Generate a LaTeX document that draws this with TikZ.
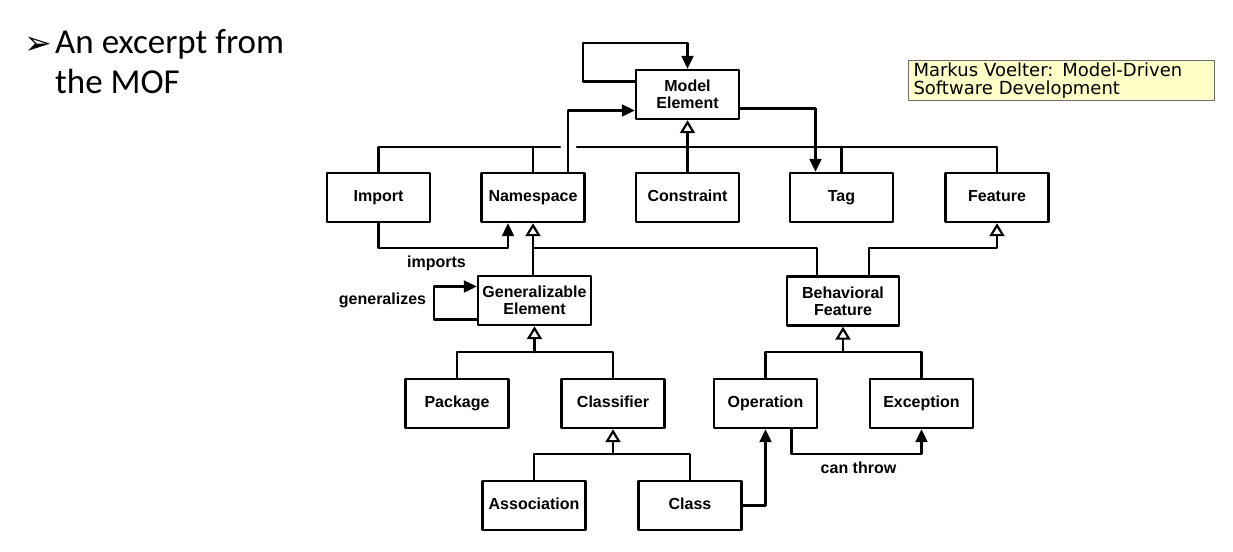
\documentclass[tikz,border=0pt]{standalone}
\usepackage{fontspec}
\setsansfont{Liberation Sans}
\newfontfamily\titlefont{Carlito}
\newfontfamily\notefont{DejaVu Sans}
\usetikzlibrary{arrows.meta}
\definecolor{notebg}{RGB}{255,255,200}
\definecolor{noteline}{RGB}{110,110,110}
\newcommand{\boxfont}{\sffamily\bfseries\fontsize{16}{17}\selectfont}

\begin{document}
\begin{tikzpicture}[line cap=round,line join=round,x=1pt,y=-1pt,
  >={Triangle[length=13pt,width=12pt]},
  box/.style={draw,line width=2.4pt,minimum width=103pt,minimum height=49pt,inner sep=3pt,align=center,font=\boxfont},
  onebox/.style={box,text height=11.5pt,text depth=3.5pt},
  conn/.style={line width=2.2pt},
  gen/.style={conn,-{Triangle[open,length=13pt,width=15pt,fill=white]}},
  lbl/.style={inner sep=0pt,anchor=base,font=\boxfont}]
\useasboundingbox (0,0) rectangle (1233,551);
% title and note
\node[inner sep=0pt,anchor=base west,font=\notefont\fontsize{33}{33}\selectfont] (bullet) at (24,55) {➢};
\node[inner sep=0pt,anchor=base west,font=\titlefont\fontsize{35}{40}\selectfont] (title1) at (55,53) {An excerpt from};
\node[inner sep=0pt,anchor=base west,font=\titlefont\fontsize{35}{40}\selectfont] (title2) at (55,93) {the MOF};
\node[draw=noteline,fill=notebg,line width=1pt,anchor=north west,text width=296pt,inner xsep=5pt,inner ysep=2pt,minimum height=40pt,align=left,font=\notefont\fontsize{18}{18}\selectfont] (note) at (908,60) {Markus Voelter: Model-Driven\\Software Development};
% boxes
\node[box] (me) at (687.5,94.5) {Model\\Element};
\node[onebox] (imp) at (378.5,197.5) {Import};
\node[onebox] (ns) at (533,197.5) {Namespace};
\node[onebox] (con) at (687.5,197.5) {Constraint};
\node[onebox] (tag) at (841.5,197.5) {Tag};
\node[onebox] (feat) at (997,197.5) {Feature};
\node[box,minimum width=113pt] (ge) at (534.5,300.5) {Generalizable\\Element};
\node[box,minimum width=112pt] (bf) at (843,301) {Behavioral\\Feature};
\node[onebox] (pkg) at (457,403.5) {Package};
\node[onebox] (cls) at (613,403.5) {Classifier};
\node[onebox] (op) at (765.5,403.5) {Operation};
\node[onebox] (exc) at (921.5,403.5) {Exception};
\node[onebox] (assoc) at (534,505.5) {Association};
\node[onebox] (clazz) at (690,505.5) {Class};
% labels
\node[lbl] (lblimp) at (436.5,267) {imports};
\node[lbl] (lblgen) at (382.5,304) {generalizes};
\node[lbl] (lblthrow) at (858.5,473) {can throw};
% model element
\draw[conn,->] ([yshift=13pt]me.west) -- ++(-52,0) |- ([yshift=26pt]me.north) -- (me.north);
\draw[conn] (imp.north) |- ([xshift=27pt,yshift=25pt]ns.north);
\draw[conn] ([xshift=44pt,yshift=25pt]ns.north) -| (feat.north);
\draw[conn] (ns.north) -- ++(0,-25);
\draw[conn] (tag.north) -- ++(0,-25);
\draw[gen] (con.north) -- (me.south);
\draw[conn,->] ([xshift=35pt]ns.north) |- ([yshift=-16pt]me.west);
\draw[conn,->] ([yshift=-14pt]me.east) -| ([xshift=-26pt]tag.north);
% namespace, feature
\draw[conn,->] (imp.south) -- ++(0,25) -| ([xshift=-25pt]ns.south);
\draw[gen] (ns.south |- ge.north) -- (ns.south);
\draw[conn] ([yshift=-25pt]ns.south) -| ([xshift=-26pt]bf.north);
\draw[gen] ([xshift=26pt]bf.north) -- ++(0,-27) -| (feat.south);
\draw[conn,->] ([yshift=-19pt]ge.west) -- ++(-43,0) |- ([yshift=14pt]ge.west);
% lower levels
\draw[conn] (pkg.north) -- ++(0,-26) -| (cls.north);
\draw[gen] ([yshift=-26pt]ge.south) -- (ge.south);
\draw[conn] (op.north) -- ++(0,-26) -| (exc.north);
\draw[gen] ([yshift=-25pt]bf.south) -- (bf.south);
\draw[conn] (assoc.north) -- ++(0,-26) -| (clazz.north);
\draw[gen] ([yshift=-25pt]cls.south) -- (cls.south);
\draw[conn,->] ([xshift=26pt]op.south) -- ++(0,25) -| (exc.south);
\draw[conn,->] (clazz.east) -| (op.south);
\end{tikzpicture}
\end{document}
